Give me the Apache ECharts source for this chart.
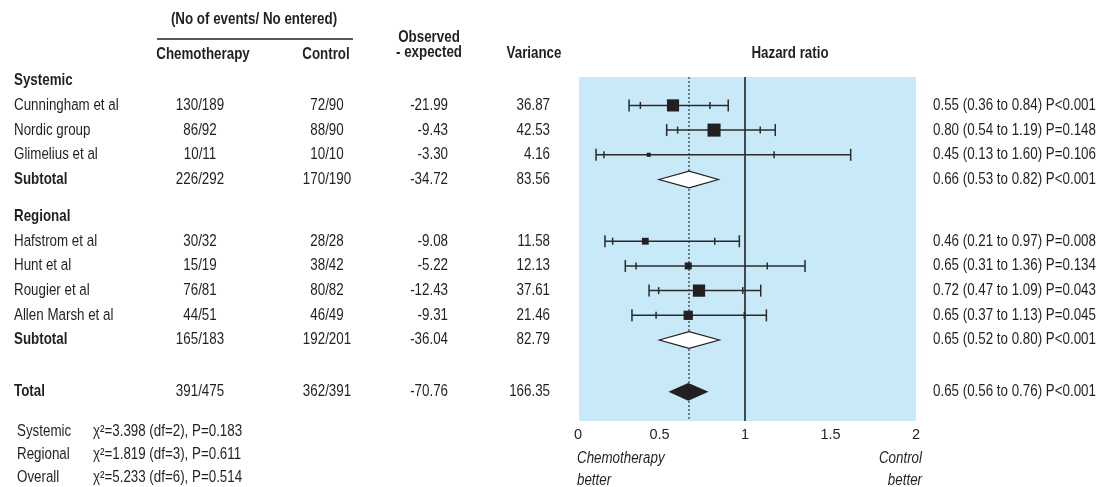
<!DOCTYPE html>
<html><head><meta charset="utf-8">
<script src="https://cdn.jsdelivr.net/npm/echarts@6/dist/echarts.min.js"></script>
<style>html,body{margin:0;padding:0;background:#fff}#c{width:1109px;height:487px}</style>
</head><body><div id="c"></div>
<script>
// ---------- data ----------
const rowLabels = ["Systemic","Cunningham et al","Nordic group","Glimelius et al","Subtotal","Regional","Hafstrom et al","Hunt et al","Rougier et al","Allen Marsh et al","Subtotal","Total"];
const rowKinds = ["group","study","study","study","subtotal","group","study","study","study","study","subtotal","total"];
const chemoEvents = ["","130/189","86/92","10/11","226/292","","30/32","15/19","76/81","44/51","165/183","391/475"];
const controlEvents = ["","72/90","88/90","10/10","170/190","","28/28","38/42","80/82","46/49","192/201","362/391"];
const obsMinusExp = [null,-21.99,-9.43,-3.30,-34.72,null,-9.08,-5.22,-12.43,-9.31,-36.04,-70.76];
const variances = [null,36.87,42.53,4.16,83.56,null,11.58,12.13,37.61,21.46,82.79,166.35];
const hrLabels = ["","0.55 (0.36 to 0.84) P<0.001","0.80 (0.54 to 1.19) P=0.148","0.45 (0.13 to 1.60) P=0.106","0.66 (0.53 to 0.82) P<0.001","","0.46 (0.21 to 0.97) P=0.008","0.65 (0.31 to 1.36) P=0.134","0.72 (0.47 to 1.09) P=0.043","0.65 (0.37 to 1.13) P=0.045","0.65 (0.52 to 0.80) P<0.001","0.65 (0.56 to 0.76) P<0.001"];
// plotted marks (hazard ratio scale)
const markOuterLow  = [null,0.322,0.542,0.129,0.497,null,0.181,0.300,0.439,0.339,0.499,0.561];
const markInnerLow  = [null,0.388,0.606,0.175,null,null,0.226,0.363,0.495,0.480,null,null];
const markPoint     = [null,0.579,0.819,0.437,0.673,null,0.417,0.668,0.731,0.668,0.673,0.668];
const markInnerHigh = [null,0.795,1.089,1.170,null,null,0.823,1.130,0.987,0.996,null,null];
const markOuterHigh = [null,0.902,1.177,1.618,0.844,null,0.967,1.351,1.092,1.125,0.850,0.778];
const overallLine = 0.673;
const nullLine = 1;
const shadeFrom = 0.03;
const xTicks = [0, 0.5, 1, 1.5, 2];
const hetLabels = ["Systemic","Regional","Overall"];
const hetChi = ["3.398","1.819","5.233"];
const hetDf = [2,3,6];
const hetP = ["0.183","0.611","0.514"];

// ---------- fonts ----------
function hasFont(name){
  const c = document.createElement('canvas').getContext('2d');
  const t = 'Cunningham et al 0123456789 WWmm';
  c.font = '40px monospace'; const w1 = c.measureText(t).width;
  c.font = '40px "' + name + '", monospace'; const w2 = c.measureText(t).width;
  return Math.abs(w1 - w2) > 0.5;
}
let FAMILY = '"Liberation Sans", Arial, sans-serif', FS = 16.3, SX = 0.82, AXFS = 14.5;
if (hasFont('Liberation Sans Narrow')) { FAMILY = '"Liberation Sans Narrow", sans-serif'; SX = 1; AXFS = 16.3; }
else if (hasFont('Arial Narrow')) { FAMILY = '"Arial Narrow", sans-serif'; SX = 1; AXFS = 16.3; }
const INK = '#231f20';

// ---------- layout of rows ----------
const rowPos = []; let acc = 0;
rowKinds.forEach((k, i) => {
  if (i > 0) { acc += 1; if (k === 'group') acc += 0.5; if (k === 'total') acc += 1.1; }
  rowPos.push(acc);
});

const studyData = [], diamondData = [];
rowKinds.forEach((k, i) => {
  if (k === 'study') studyData.push([rowPos[i], markOuterLow[i], markInnerLow[i], markPoint[i], markInnerHigh[i], markOuterHigh[i], 2 * Math.sqrt(variances[i])]);
  if (k === 'subtotal' || k === 'total') diamondData.push([rowPos[i], markOuterLow[i], markPoint[i], markOuterHigh[i], k === 'total' ? 1 : 0]);
});

const chart = echarts.init(document.getElementById('c'), null, {renderer: 'canvas'});
const option = {
  animation: false,
  backgroundColor: '#fff',
  grid: {left: 574, width: 342, top: 77, height: 344},
  xAxis: {
    type: 'value', min: xTicks[0], max: xTicks[xTicks.length - 1], interval: xTicks[1] - xTicks[0],
    axisLine: {show: false},
    axisTick: {show: true, inside: true, length: 5, lineStyle: {color: '#ffffff', width: 2}},
    splitLine: {show: false},
    axisLabel: {margin: 6, color: INK, fontFamily: FAMILY, fontSize: AXFS, alignMinLabel: 'left', alignMaxLabel: 'center',
      formatter: v => String(v)}
  },
  yAxis: {type: 'value', inverse: true, min: -0.15, max: 13.78, show: false},
  series: [
    {
      type: 'custom', name: 'studies', z: 5,
      encode: {x: [1, 2, 3, 4, 5], y: 0},
      data: studyData,
      markArea: {silent: true, itemStyle: {color: '#c7e9f8'}, data: [[{xAxis: shadeFrom}, {xAxis: xTicks[xTicks.length - 1]}]]},
      markLine: {silent: true, symbol: 'none', label: {show: false}, z: 2,
        data: [
          {xAxis: nullLine, lineStyle: {color: '#222222', width: 1.6, type: 'solid'}},
          {xAxis: overallLine, lineStyle: {color: '#56626c', width: 1.6, type: [2, 2]}}
        ]},
      renderItem: function (params, api) {
        const y = api.value(0);
        const pt = v => api.coord([v, y]);
        const a = pt(api.value(1)), b = pt(api.value(2)), m = pt(api.value(3)), c = pt(api.value(4)), d = pt(api.value(5));
        const s = api.value(6);
        const st = {stroke: '#2a2a2a', lineWidth: 1.5};
        const vline = (p, h) => ({type: 'line', shape: {x1: p[0], y1: p[1] - h, x2: p[0], y2: p[1] + h}, style: st});
        return {type: 'group', children: [
          {type: 'line', shape: {x1: a[0], y1: a[1], x2: d[0], y2: d[1]}, style: st},
          vline(a, 6), vline(d, 6), vline(b, 3.5), vline(c, 3.5),
          {type: 'rect', shape: {x: m[0] - s / 2, y: m[1] - s / 2, width: s, height: s}, style: {fill: INK}}
        ]};
      }
    },
    {
      type: 'custom', name: 'pooled', z: 6,
      encode: {x: [1, 2, 3], y: 0},
      data: diamondData,
      renderItem: function (params, api) {
        const y = api.value(0);
        const l = api.coord([api.value(1), y]), m = api.coord([api.value(2), y]), r = api.coord([api.value(3), y]);
        const h = 8.3;
        return {type: 'polygon', shape: {points: [[l[0], l[1]], [m[0], m[1] - h], [r[0], r[1]], [m[0], m[1] + h]]},
          style: {fill: api.value(4) ? INK : '#ffffff', stroke: INK, lineWidth: 1.2}};
      }
    }
  ]
};
chart.setOption(option);

// ---------- table text ----------
const g = [];
function txt(text, x, y, align, opts) {
  opts = opts || {};
  g.push({type: 'text', x: x, y: y, scaleX: SX, silent: true, z: 10,
    style: {text: text, fill: INK, fontFamily: FAMILY, fontSize: FS, fontWeight: opts.bold ? 'bold' : 'normal',
      fontStyle: opts.italic ? 'italic' : 'normal', align: align, verticalAlign: 'middle'}});
}
// headers
txt('(No of events/ No entered)', 254, 20, 'center', {bold: true});
g.push({type: 'line', silent: true, shape: {x1: 157, y1: 39, x2: 353, y2: 39}, style: {stroke: INK, lineWidth: 1.5}});
txt('Chemotherapy', 203, 55, 'center', {bold: true});
txt('Control', 326, 55, 'center', {bold: true});
txt('Observed', 429, 38, 'center', {bold: true});
txt('- expected', 429, 53, 'center', {bold: true});
txt('Variance', 534, 54, 'center', {bold: true});
txt('Hazard ratio', 790, 54, 'center', {bold: true});

rowLabels.forEach((lab, i) => {
  const y = chart.convertToPixel({yAxisIndex: 0}, rowPos[i]);
  const k = rowKinds[i];
  txt(lab, 14, y, 'left', {bold: k !== 'study'});
  if (k === 'group') return;
  txt(chemoEvents[i], 200, y, 'center');
  txt(controlEvents[i], 327, y, 'center');
  txt(obsMinusExp[i].toFixed(2), 448, y, 'right');
  txt(variances[i].toFixed(2), 550, y, 'right');
  txt(hrLabels[i], 933, y, 'left');
});

// heterogeneity
hetLabels.forEach((lab, i) => {
  const y = 432 + i * 23;
  txt(lab, 17, y, 'left');
  txt('\u03c7\u00b2=' + hetChi[i] + ' (df=' + hetDf[i] + '), P=' + hetP[i], 93, y, 'left');
});
// axis direction labels
txt('Chemotherapy', 577, 458, 'left', {italic: true});
txt('better', 577, 480, 'left', {italic: true});
txt('Control', 922, 458, 'right', {italic: true});
txt('better', 922, 480, 'right', {italic: true});

chart.setOption({graphic: g});
</script>
</body></html>
